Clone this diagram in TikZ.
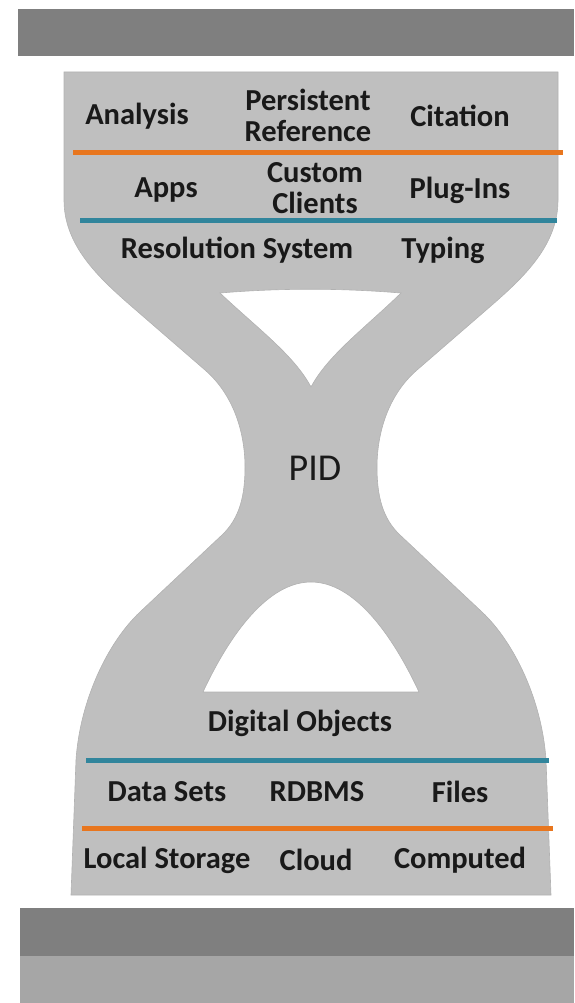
\documentclass[tikz,border=0pt]{standalone}
\usepackage{fontspec}
\setmainfont{Carlito}
\usepackage{tikz}

\definecolor{barDark}{HTML}{7F7F7F}
\definecolor{barLight}{HTML}{A6A6A6}
\definecolor{glassFill}{HTML}{BFBFBF}
\definecolor{sepOrange}{HTML}{E8761E}
\definecolor{sepBlue}{HTML}{31859C}

\tikzset{
  lbl/.style={inner sep=0pt, align=center, text=black!90,
    font=\bfseries\fontsize{30.5}{31}\selectfont},
  pidlbl/.style={inner sep=0pt, text=black!90,
    font=\fontsize{38}{40}\selectfont},
  sepline/.style={line width=5pt},
}

\begin{document}
\begin{tikzpicture}[x=1pt, y=-1pt]
    \useasboundingbox (0,0) rectangle (574,1003);

    % bars
    \fill[barDark] (18,9) rectangle (574,56);
    \fill[barDark] (20,908) rectangle (574,956);
    \fill[barLight] (20,956) rectangle (574,1003);

    % hourglass with its two holes
    \path[fill=glassFill, draw=gray!60, line width=0.6pt, even odd rule]
      (64,72) -- (558,72) -- (558,200)
        .. controls (558,245) and (524,277) .. (492,305)
        -- (417,370)
        .. controls (387,396) and (377,435) .. (377,467)
        .. controls (377,495) and (382,518) .. (400,535)
        -- (482,612)
        .. controls (514,642) and (542,700) .. (546,760)
        -- (551,895) -- (71,895) -- (76,760)
        .. controls (80,700) and (108,642) .. (140,612)
        -- (222,535)
        .. controls (240,518) and (245,495) .. (245,467)
        .. controls (245,435) and (235,396) .. (205,370)
        -- (130,305)
        .. controls (98,277) and (64,245) .. (64,200)
        -- cycle
      (220,293) .. controls (280,288) and (340,288) .. (401,293)
        .. controls (365,328) and (328,355) .. (311,387)
        .. controls (294,355) and (257,328) .. (220,293) -- cycle
      (203,692) .. controls (230,634) and (268,582) .. (311,582)
        .. controls (354,582) and (392,634) .. (419,692) -- cycle;

    % separators
    \draw[sepline, sepOrange] (73,153) -- (563,153);
    \draw[sepline, sepBlue] (80,220) -- (557,220);
    \draw[sepline, sepBlue] (86,760) -- (549,760);
    \draw[sepline, sepOrange] (82,828) -- (553,828);

    % upper layers
    \node[lbl] (analysis) at (137,116) {Analysis};
    \node[lbl] (persref) at (308,115) {Persistent\\Reference};
    \node[lbl] (citation) at (460,116) {Citation};

    \node[lbl] (apps) at (166,190) {Apps};
    \node[lbl] (clients) at (315,188) {Custom\\Clients};
    \node[lbl] (plugins) at (460,190) {Plug-Ins};

    \node[lbl] (resolution) at (237,250) {Resolution System};
    \node[lbl] (typing) at (443,250) {Typing};

    % waist
    \node[pidlbl] (pid) at (315,468) {PID};

    % lower layers
    \node[lbl] (digobj) at (300,723) {Digital Objects};

    \node[lbl] (datasets) at (167,792) {Data Sets};
    \node[lbl] (rdbms) at (317,792) {RDBMS};
    \node[lbl] (files) at (460,792) {Files};

    \node[lbl] (localst) at (167,860) {Local Storage};
    \node[lbl] (cloud) at (316,860) {Cloud};
    \node[lbl] (computed) at (460,860) {Computed};
\end{tikzpicture}
\end{document}
